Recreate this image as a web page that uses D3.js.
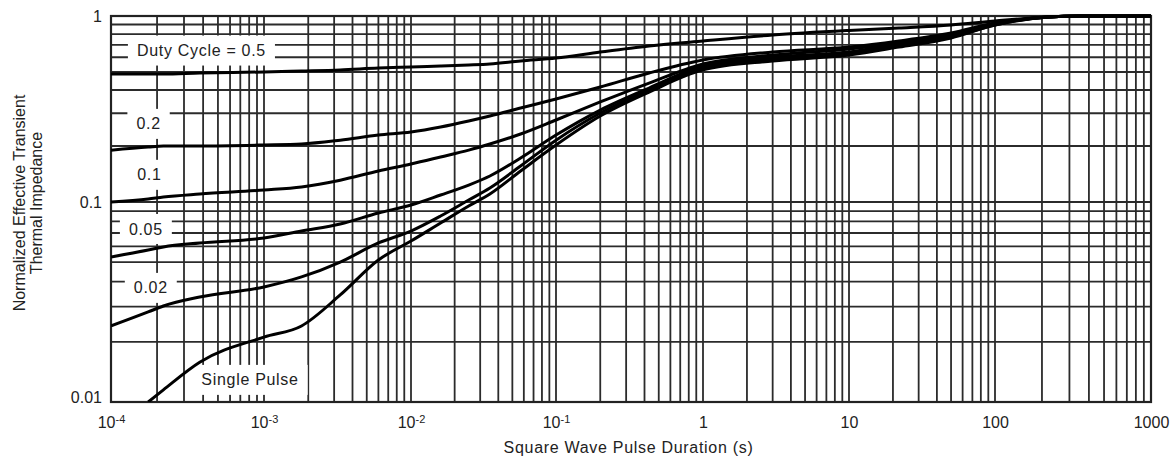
<!DOCTYPE html>
<html>
<head>
<meta charset="utf-8">
<script src="https://cdn.jsdelivr.net/npm/d3@7"></script>
<style>
  body { margin: 0; background: #fff; }
  svg text { font-family: "Liberation Sans", Arial, sans-serif; fill: #222; }
</style>
</head>
<body>
<div id="chart"></div>
<script>
// pulse duration (s), shared by every curve
const pulseTimes = [1e-4, 1.75e-4, 2.2e-4, 3.8e-4, 1e-3, 1.8e-3, 3.3e-3, 6e-3, 1e-2, 1.6e-2, 2.5e-2, 0.035, 0.057,
  0.1, 0.2, 0.43, 1, 3, 10, 22, 50, 100, 220, 350, 1000];

// normalized effective transient thermal impedance, one array per duty cycle
const duty50 = [0.488, 0.488, 0.488, 0.494, 0.5, 0.506, 0.513, 0.525, 0.532, 0.538, 0.545, 0.552, 0.573,
  0.594, 0.64, 0.69, 0.734, 0.79, 0.836, 0.862, 0.895, 0.94, 0.988, 1, 1];
const duty20 = [0.19, 0.1975, 0.2, 0.2, 0.2025, 0.205, 0.215, 0.229, 0.238, 0.253, 0.2725, 0.29, 0.32,
  0.358, 0.415, 0.494, 0.58, 0.64, 0.681, 0.734, 0.81, 0.917, 0.988, 1, 1];
const duty10 = [0.1, 0.1038, 0.1064, 0.1104, 0.116, 0.1205, 0.131, 0.1468, 0.16, 0.1746, 0.19, 0.205, 0.232,
  0.276, 0.345, 0.436, 0.552, 0.617, 0.665, 0.716, 0.79, 0.906, 0.988, 1, 1];
const duty05 = [0.0531, 0.0575, 0.0596, 0.0624, 0.0661, 0.0716, 0.0776, 0.0881, 0.0966, 0.109, 0.1233, 0.138, 0.1724,
  0.229, 0.312, 0.41, 0.538, 0.602, 0.64, 0.707, 0.781, 0.906, 0.988, 1, 1];
const duty02 = [0.024, 0.0282, 0.0302, 0.0335, 0.0376, 0.0422, 0.0501, 0.0624, 0.0716, 0.0851, 0.1025, 0.119, 0.1562,
  0.215, 0.301, 0.4, 0.525, 0.587, 0.632, 0.698, 0.771, 0.895, 0.988, 1, 1];
const singlePulse = [null, 0.01, 0.0115, 0.0158, 0.0211, 0.024, 0.0343, 0.0513, 0.0638, 0.0785, 0.0955, 0.1104, 0.1468,
  0.2025, 0.29, 0.39, 0.513, 0.573, 0.617, 0.681, 0.762, 0.895, 0.988, 1, 1];

const seriesNames = ["Duty Cycle = 0.5", "0.2", "0.1", "0.05", "0.02", "Single Pulse"];
const seriesValues = [duty50, duty20, duty10, duty05, duty02, singlePulse];

// tick labels
const xTickValues = [1e-4, 1e-3, 1e-2, 1e-1, 1, 10, 100, 1000];
const yTickValues = [0.01, 0.1, 1];

const width = 1173, height = 459;
const svg = d3.select("#chart").append("svg")
  .attr("width", width)
  .attr("height", height);

// the scanned grid has slightly uneven decades, so the log scales are piecewise
const x = d3.scaleLog()
  .domain(xTickValues)
  .range([111, 264, 411, 556, 703, 849, 995, 1151]);

const y = d3.scaleLog()
  .domain(yTickValues)
  .range([402, 202, 16]);

const plotLeft = x(1e-4), plotRight = x(1000);
const plotTop = y(1), plotBottom = y(0.01);

// grid
const grid = svg.append("g").attr("stroke", "#2b2b2b").attr("stroke-width", 1.8);
grid.selectAll("line.v")
  .data(x.ticks())
  .enter().append("line")
  .attr("class", "v")
  .attr("x1", d => x(d)).attr("x2", d => x(d))
  .attr("y1", plotTop).attr("y2", plotBottom);
grid.selectAll("line.h")
  .data(y.ticks())
  .enter().append("line")
  .attr("class", "h")
  .attr("x1", plotLeft).attr("x2", plotRight)
  .attr("y1", d => y(d)).attr("y2", d => y(d));

svg.append("rect")
  .attr("x", plotLeft).attr("y", plotTop)
  .attr("width", plotRight - plotLeft).attr("height", plotBottom - plotTop)
  .attr("fill", "none")
  .attr("stroke", "#222")
  .attr("stroke-width", 2.2);

// curve labels sit in white boxes that break the grid
const labelSpots = [[3.9e-4, 0.652], [1.76e-4, 0.263], [1.78e-4, 0.14], [1.69e-4, 0.0733], [1.82e-4, 0.0372], [8.1e-4, 0.0129]];
const labels = svg.append("g");
labelSpots.forEach((p, i) => {
  const g = labels.append("g");
  const t = g.append("text")
    .attr("x", x(p[0]))
    .attr("y", y(p[1]))
    .attr("dy", "0.35em")
    .attr("font-size", 16)
    .attr("letter-spacing", 0.7)
    .style("text-anchor", "middle")
    .text(seriesNames[i]);
  const b = t.node().getBBox();
  g.insert("rect", "text")
    .attr("x", b.x - 9).attr("y", y(p[1]) - 15)
    .attr("width", b.width + 18).attr("height", 30)
    .attr("fill", "#fff");
});

// curves
const line = d3.line()
  .defined(d => d[1] != null)
  .x(d => x(d[0]))
  .y(d => y(d[1]))
  .curve(d3.curveMonotoneX);

svg.append("clipPath").attr("id", "plot-clip")
  .append("rect")
  .attr("x", plotLeft).attr("y", plotTop - 2)
  .attr("width", plotRight - plotLeft).attr("height", plotBottom - plotTop + 2);

svg.append("g")
  .attr("clip-path", "url(#plot-clip)")
  .selectAll("path")
  .data(seriesValues)
  .enter().append("path")
  .attr("d", vals => line(pulseTimes.map((t, i) => [t, vals[i]])))
  .attr("fill", "none")
  .attr("stroke", "#000")
  .attr("stroke-width", 3)
  .attr("stroke-linejoin", "round");

// axes (labels only)
const xAxis = svg.append("g")
  .attr("transform", `translate(0,${plotBottom})`)
  .call(d3.axisBottom(x).tickValues(xTickValues).tickSize(0).tickPadding(15).tickFormat(""));
xAxis.select(".domain").remove();
xAxis.selectAll(".tick text")
  .attr("font-size", 16)
  .each(function(d) {
    const t = d3.select(this);
    const e = Math.round(Math.log10(d));
    if (e < 0) {
      t.append("tspan").text("10");
      t.append("tspan").attr("dy", "-0.45em").attr("font-size", 11).text(e);
    } else {
      t.text(d3.format("d")(d));
    }
  });

const yAxis = svg.append("g")
  .attr("transform", `translate(${plotLeft},0)`)
  .call(d3.axisLeft(y).tickValues(yTickValues).tickSize(0).tickPadding(9)
    .tickFormat(d => d3.format("~g")(d)));
yAxis.select(".domain").remove();
yAxis.selectAll(".tick text")
  .attr("font-size", 16)
  .attr("dy", d => d === 0.01 ? "0em" : "0.35em");

svg.append("text")
  .attr("x", (x(0.1) + x(1)) / 2 - 1)
  .attr("y", 453)
  .attr("font-size", 16)
  .attr("letter-spacing", 0.7)
  .style("text-anchor", "middle")
  .text("Square Wave Pulse Duration (s)");

svg.append("text")
  .attr("transform", "translate(25,203) rotate(-90)")
  .attr("font-size", 16)
  .style("text-anchor", "middle")
  .text("Normalized Effective Transient");

svg.append("text")
  .attr("transform", "translate(42,203) rotate(-90)")
  .attr("font-size", 16)
  .style("text-anchor", "middle")
  .text("Thermal Impedance");
</script>
</body>
</html>
